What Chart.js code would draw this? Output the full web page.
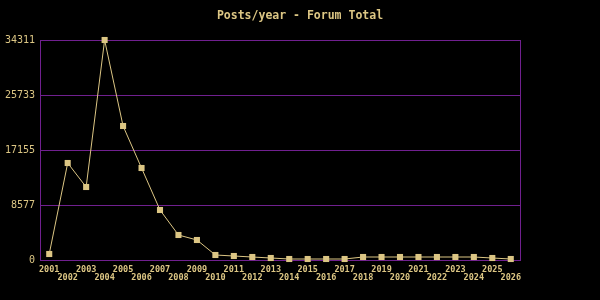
<!DOCTYPE html>
<html>
<head>
<meta charset="utf-8">
<script src="https://cdn.jsdelivr.net/npm/chart.js@4"></script>
<style>
  html, body { margin: 0; padding: 0; background: #000; }
  canvas { display: block; }
</style>
</head>
<body>
<canvas id="postsChart" width="600" height="300"></canvas>
<script>
const years = ['2001', '2002', '2003', '2004', '2005', '2006', '2007', '2008', '2009', '2010',
  '2011', '2012', '2013', '2014', '2015', '2016', '2017', '2018', '2019', '2020',
  '2021', '2022', '2023', '2024', '2025', '2026'];
const posts = [890, 15080, 11340, 34311, 20860, 14300, 7750, 3850, 3070, 730,
  580, 420, 265, 110, 110, 110, 110, 420, 420, 420,
  420, 420, 420, 420, 265, 110];
const yTicks = [0, 8577, 17155, 25733, 34311];

const gold = '#dcc684';
const purple = '#70208f';

// purple frame round the plot
const frame = {
  id: 'frame',
  beforeDatasetsDraw(chart) {
    const { ctx, chartArea: a } = chart;
    ctx.save();
    ctx.strokeStyle = purple;
    ctx.lineWidth = 1;
    ctx.strokeRect(Math.round(a.left) + 0.5, Math.round(a.top) + 0.5,
      Math.round(a.right - a.left), Math.round(a.bottom - a.top));
    ctx.restore();
  }
};

const ctx = document.getElementById('postsChart').getContext('2d');
new Chart(ctx, {
  type: 'line',
  data: {
    // odd years on the first row, even years on the second
    labels: years.map((y, i) => i % 2 === 0 ? [y, ''] : ['', y]),
    datasets: [{
      label: 'Posts',
      data: posts,
      borderColor: gold,
      borderWidth: 1,
      backgroundColor: gold,
      pointStyle: 'rect',
      pointRadius: 4.3,
      pointBorderWidth: 0,
      pointBackgroundColor: gold,
      tension: 0,
      clip: false
    }]
  },
  options: {
    responsive: false,
    animation: false,
    layout: { padding: 0 },
    plugins: {
      legend: { display: false },
      tooltip: { enabled: false },
      title: {
        display: true,
        text: 'Posts/year - Forum Total',
        color: gold,
        font: { family: 'DejaVu Sans Mono', size: 11.5, weight: 'bold', lineHeight: '12px' },
        padding: { top: 10, bottom: 18 }
      }
    },
    scales: {
      x: {
        offset: true,
        grid: { display: false, drawTicks: false },
        border: { display: false },
        ticks: {
          color: gold,
          autoSkip: false,
          maxRotation: 0,
          padding: 6,
          font: { family: 'DejaVu Sans Mono', size: 8.5, weight: 'bold', lineHeight: '8px' }
        },
        afterFit(scale) { scale.height = 40; }
      },
      y: {
        min: 0,
        max: 34311,
        alignToPixels: true,
        grid: { color: purple, lineWidth: 1, drawTicks: false },
        border: { color: purple },
        afterBuildTicks(scale) { scale.ticks = yTicks.map(v => ({ value: v })); },
        ticks: {
          color: gold,
          padding: 5,
          font: { family: 'DejaVu Sans Mono', size: 10 },
          callback: v => String(v)
        },
        afterFit(scale) { scale.width = 40; }
      },
      // empty axis that only keeps the right margin free
      yRight: {
        position: 'right',
        grid: { display: false },
        border: { display: false },
        ticks: { display: false },
        afterFit(scale) { scale.width = 80; }
      }
    }
  },
  plugins: [frame]
});
</script>
</body>
</html>
